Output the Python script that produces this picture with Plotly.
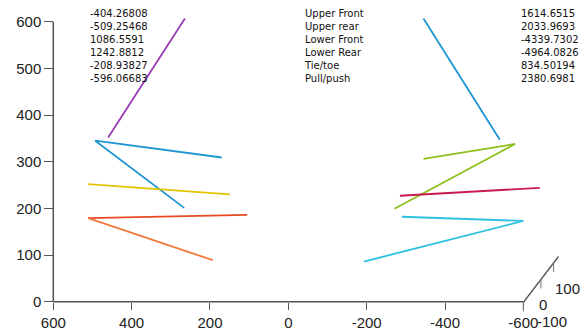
import plotly.graph_objects as go

# ---- data ----
x_ticks = [600, 400, 200, 0, -200, -400, -600]
y_ticks = [0, 100, 200, 300, 400, 500, 600]
depth_labels = ["100", "0", "-100"]

labels = ["Upper Front", "Upper rear", "Lower Front", "Lower Rear", "Tie/toe", "Pull/push"]
left_values = ["-404.26808", "-509.25468", "1086.5591", "1242.8812", "-208.93827", "-596.06683"]
right_values = ["1614.6515", "2033.9693", "-4339.7302", "-4964.0826", "834.50194", "2380.6981"]

purple_x = [460, 264]
purple_y = [352, 607]
blue_left_x = [170, 493, 266]
blue_left_y = [309, 345, 201]
yellow_x = [511, 149]
yellow_y = [252, 230]
red_x = [511, 105]
red_y = [179, 186]
orange_x = [511, 193]
orange_y = [179, 89]

blue_right_x = [-345, -540]
blue_right_y = [607, 347]
green_x = [-345, -579, -271]
green_y = [306, 338, 199]
crimson_x = [-285, -642]
crimson_y = [227, 244]
cyan_x = [-290, -600, -193]
cyan_y = [182, 173, 86]

series = [
    (purple_x, purple_y, "#9a3db2"),
    (blue_left_x, blue_left_y, "#1e96d2"),
    (yellow_x, yellow_y, "#e2c400"),
    (red_x, red_y, "#e64a22"),
    (orange_x, orange_y, "#f0783e"),
    (blue_right_x, blue_right_y, "#1e96d2"),
    (green_x, green_y, "#8cbf1e"),
    (crimson_x, crimson_y, "#c81a4c"),
    (cyan_x, cyan_y, "#2cc2e0"),
]

W, H = 580, 335
ML, MR, MT, MB = 40, 10, 5, 20
PW, PH = W - ML - MR, H - MT - MB

# pixel geometry of the reference axes
X0PX, XSCALE = 53.3, 0.3917   # px of x=600, px per unit
Y0PX, YSCALE = 301.7, 0.4667  # px of y=0, px per unit

xr = [600 + (X0PX - ML) / XSCALE, 600 - (W - MR - X0PX) / XSCALE]
yr = [(Y0PX - (H - MB)) / YSCALE, (Y0PX - MT) / YSCALE]


def px2paper(px, py):
    return (px - ML) / PW, (H - MB - py) / PH


fig = go.Figure()
for xs, ys, col in series:
    fig.add_trace(go.Scatter(x=xs, y=ys, mode="lines",
                             line=dict(color=col, width=1.8),
                             showlegend=False, hoverinfo="skip"))

axis_font = dict(family="Liberation Sans, Arial, sans-serif", size=15, color="#222")
fig.update_layout(
    width=W, height=H, autosize=False,
    margin=dict(l=ML, r=MR, t=MT, b=MB),
    paper_bgcolor="white", plot_bgcolor="white",
    showlegend=False,
    xaxis=dict(range=xr, anchor="free", position=px2paper(0, Y0PX)[1],
               tickvals=x_ticks, ticktext=[str(v) for v in x_ticks],
               ticks="outside", ticklen=7, tickcolor="#555", tickwidth=1.2,
               showgrid=False, zeroline=False, showline=False,
               tickfont=axis_font),
    yaxis=dict(range=yr, anchor="free", position=px2paper(X0PX, 0)[0],
               tickvals=y_ticks, ticktext=[str(v) for v in y_ticks],
               ticks="outside", ticklen=9, tickcolor="#555", tickwidth=1.2,
               showgrid=False, zeroline=False, showline=False,
               tickfont=axis_font),
)

# axis lines
line_style = dict(color="#555", width=1.5)
fig.add_shape(type="line", xref="x", yref="y", x0=600, y0=0, x1=-600, y1=0, line=line_style)
fig.add_shape(type="line", xref="x", yref="y", x0=600, y0=0, x1=600, y1=600, line=line_style)

# depth axis (oblique) in paper coordinates
a = px2paper(523.3, 302.5)
b = px2paper(558.5, 256.5)
fig.add_shape(type="line", xref="paper", yref="paper", x0=a[0], y0=a[1], x1=b[0], y1=b[1],
              line=dict(color="#555", width=1.3))
for t in [0.0, 0.5, 0.86]:
    tx = 523.3 + t * (558.5 - 523.3)
    ty = 302.5 + t * (256.5 - 302.5)
    p0 = px2paper(tx, ty)
    p1 = px2paper(tx, ty + 9)
    fig.add_shape(type="line", xref="paper", yref="paper", x0=p0[0], y0=p0[1], x1=p1[0], y1=p1[1],
                  line=dict(color="#777", width=1))

for lab, (px, py) in zip(depth_labels, [(567, 288), (543, 304), (552, 322)]):
    x, y = px2paper(px, py)
    fig.add_annotation(text=lab, x=x, y=y, xref="paper", yref="paper",
                       xanchor="center", yanchor="middle", showarrow=False, font=axis_font)

# text block: one multi-line annotation per column
txt_font = dict(family="DejaVu Sans, Verdana, sans-serif", size=10, color="#111")
for col_px, texts in [(89, left_values), (303, labels), (520, right_values)]:
    x, y = px2paper(col_px, 7.0)
    fig.add_annotation(text="<br>".join(texts), x=x, y=y, xref="paper", yref="paper",
                       xanchor="left", yanchor="top", align="left", showarrow=False,
                       font=txt_font, borderpad=0)

fig.write_html("out.html", config={"displayModeBar": False},
               post_script="document.body.style.margin='0';document.body.style.overflow='hidden';")
